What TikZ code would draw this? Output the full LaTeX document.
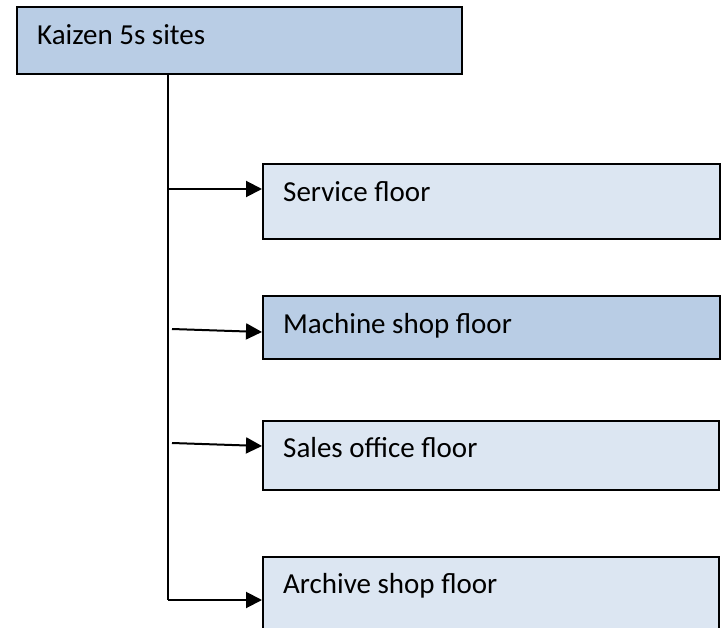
\documentclass[tikz,border=0pt]{standalone}
\usepackage{fontspec}
\setmainfont{Carlito}
\usetikzlibrary{arrows.meta}
\definecolor{boxdark}{HTML}{B9CDE5}
\definecolor{boxlight}{HTML}{DCE6F2}
\tikzset{
  box/.style={draw=black, line width=1.8pt, rectangle, anchor=north west, inner sep=0pt},
  lbl/.style={anchor=base west, inner sep=0pt, font=\fontsize{29}{34}\selectfont},
  conn/.style={line width=2pt, -{Triangle[length=16pt,width=16pt]}},
  trunk/.style={line width=1.8pt}
}
\begin{document}
\begin{tikzpicture}[x=1pt,y=-1pt]
\useasboundingbox (0,0) rectangle (725,628);
\clip (0,0) rectangle (725,628);
\node[box, fill=boxdark, minimum width=445pt, minimum height=67pt] (top) at (16,6) {};
\node[lbl] (ttop) at (37,45) {Kaizen 5s sites};

\node[box, fill=boxlight, minimum width=457pt, minimum height=75pt] (s1) at (262,163) {};
\node[lbl] (t1) at (283,202) {Service floor};

\node[box, fill=boxdark, minimum width=457pt, minimum height=63pt] (s2) at (262,295) {};
\node[lbl] (t2) at (283,333) {Machine shop floor};

\node[box, fill=boxlight, minimum width=456pt, minimum height=69pt] (s3) at (262,420) {};
\node[lbl] (t3) at (283,457) {Sales office floor};

\node[box, fill=boxlight, minimum width=456pt, minimum height=100pt] (s4) at (262,556) {};
\node[lbl] (t4) at (283,593) {Archive shop floor};

\coordinate (tk) at (168,73);
\coordinate (tb) at (168,600);
\coordinate (c1) at (168,189);
\coordinate (c2) at (172,329);
\coordinate (c3) at (172,443);

\draw[trunk] (tk) -- (tb);
\draw[conn] (tb) -- (tb -| s4.west);
\draw[conn] (c1) -- (c1 -| s1.west);
\draw[conn] (c2) -- ([yshift=-3pt]c2 -| s2.west);
\draw[conn] (c3) -- ([yshift=-3pt]c3 -| s3.west);
\end{tikzpicture}
\end{document}
